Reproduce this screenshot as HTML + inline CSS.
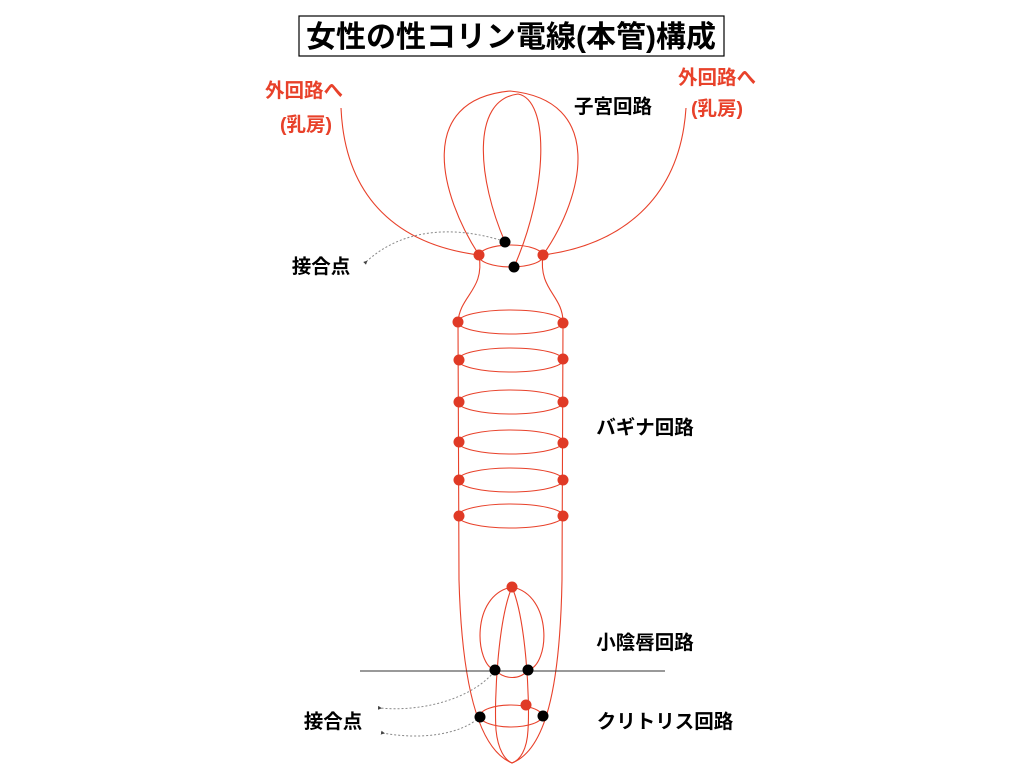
<!DOCTYPE html>
<html><head><meta charset="utf-8"><style>
body{margin:0;background:#fff;}
svg text{font-family:"Liberation Sans","Noto Sans CJK JP",sans-serif;font-weight:bold;}
</style></head><body>
<svg width="1024" height="768" viewBox="0 0 1024 768" xmlns="http://www.w3.org/2000/svg">
<defs><marker id="a" viewBox="0 0 6 6" refX="3" refY="3" markerWidth="4" markerHeight="4" orient="auto"><path d="M6,0L0,3L6,6z" fill="#444"/></marker></defs>
<rect x="299" y="16" width="425" height="40" fill="#fff" stroke="#000" stroke-width="1.2"/>
<text x="511" y="47" font-size="30" text-anchor="middle">女性の性コリン電線(本管)構成</text>
<g fill="#e8412a" font-size="19.5" text-anchor="middle">
<text x="304" y="97">外回路へ</text><text x="306" y="131">(乳房)</text>
<text x="717" y="84">外回路へ</text><text x="717" y="115">(乳房)</text>
</g>
<g fill="#000" font-size="19.5" text-anchor="middle">
<text x="613" y="113">子宮回路</text>
<text x="321" y="273">接合点</text>
<text x="645" y="434">バギナ回路</text>
<text x="645" y="649">小陰唇回路</text>
<text x="333" y="728">接合点</text>
<text x="665" y="728">クリトリス回路</text>
</g>
<g fill="none" stroke="#e8412a" stroke-width="1.1">
<path d="M341,108 C345,200 400,245 479,255"/>
<path d="M686,108 C680,200 620,245 543,255"/>
<path d="M479,255 C440,195 415,100 510,91 C605,100 585,195 543,255"/>
<path d="M505,242 C478,180 470,100 518,94 C550,100 548,190 514,267"/>
<ellipse cx="511" cy="256" rx="32" ry="11"/>
<path d="M479,255 C485,290 460,295 458,322"/>
<path d="M543,255 C538,290 563,295 563,322"/>
<ellipse cx="510.5" cy="322" rx="52.5" ry="12"/>
<ellipse cx="510.5" cy="360" rx="52.5" ry="12"/>
<ellipse cx="510.5" cy="402" rx="52.5" ry="12"/>
<ellipse cx="510.5" cy="442" rx="52.5" ry="12"/>
<ellipse cx="510.5" cy="480" rx="52.5" ry="12"/>
<ellipse cx="510.5" cy="516" rx="52.5" ry="12"/>
<path d="M458,322 L459,580 C462,690 480,750 512,763 C545,750 560,690 562,580 L563,322"/>
<path d="M512,587 C470,595 475,665 495,670 C505,680 520,680 528,670 C550,665 553,595 512,587"/>
<path d="M512,587 C498,620 494,700 496,730 C498,750 505,760 512,763 C520,760 527,750 528,730 C530,700 526,620 512,587"/>
<ellipse cx="511" cy="716" rx="31" ry="11"/>
</g>
<line x1="360" y1="671" x2="665" y2="671" stroke="#333" stroke-width="1"/>
<g fill="none" stroke="#888" stroke-width="1" stroke-dasharray="2,2" marker-end="url(#a)">
<path d="M500,240 C450,225 400,230 366,262"/>
<path d="M494,672 C470,700 420,712 380,708"/>
<path d="M480,717 C460,735 420,740 383,733"/>
</g>
<g fill="#e03a26">
<circle cx="479" cy="255" r="5.5"/><circle cx="543" cy="255" r="5.5"/>
<circle cx="458" cy="322" r="5.5"/><circle cx="563" cy="323" r="5.5"/>
<circle cx="459" cy="360" r="5.5"/><circle cx="563" cy="359" r="5.5"/>
<circle cx="459" cy="402" r="5.5"/><circle cx="563" cy="402" r="5.5"/>
<circle cx="459" cy="442" r="5.5"/><circle cx="563" cy="443" r="5.5"/>
<circle cx="459" cy="480" r="5.5"/><circle cx="563" cy="480" r="5.5"/>
<circle cx="459" cy="516" r="5.5"/><circle cx="563" cy="516" r="5.5"/>
<circle cx="512" cy="587" r="5.5"/><circle cx="526" cy="705" r="5.5"/>
</g>
<g fill="#000">
<circle cx="505" cy="242" r="5.5"/><circle cx="514" cy="267" r="5.5"/>
<circle cx="495" cy="670" r="5.5"/><circle cx="528" cy="670" r="5.5"/>
<circle cx="480" cy="717" r="5.5"/><circle cx="543" cy="716" r="5.5"/>
</g>
</svg>
</body></html>
